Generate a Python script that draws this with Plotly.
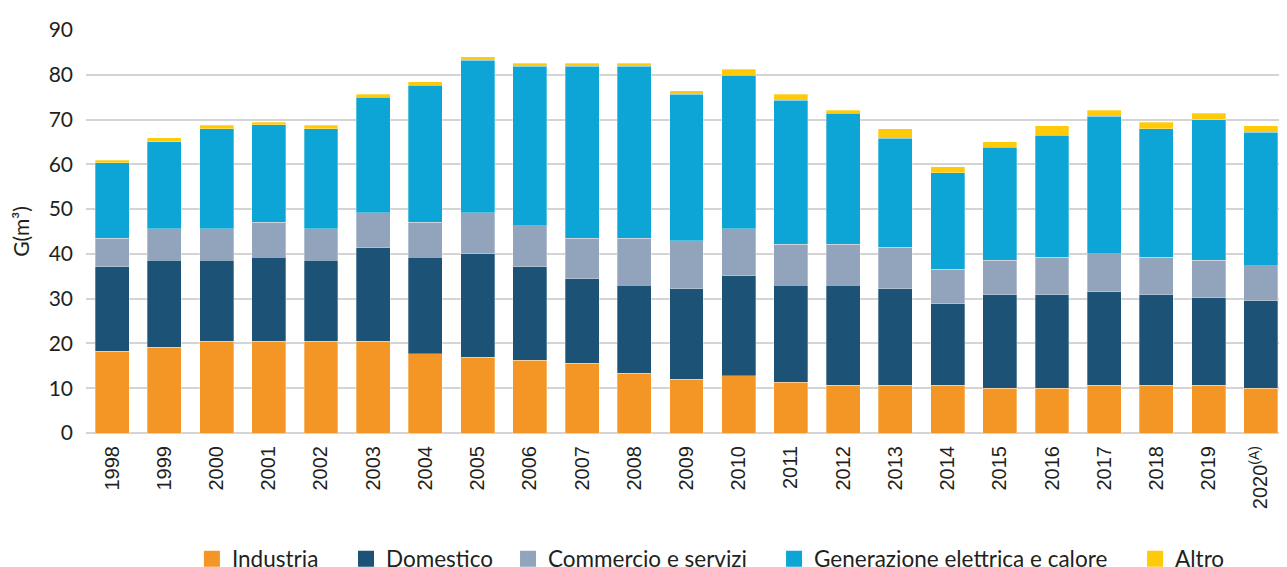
import plotly.graph_objects as go

years = ["1998", "1999", "2000", "2001", "2002", "2003", "2004", "2005", "2006", "2007",
         "2008", "2009", "2010", "2011", "2012", "2013", "2014", "2015", "2016", "2017",
         "2018", "2019", "2020<sup>(A)</sup>"]

industria = [18.3, 19.1, 20.5, 20.5, 20.5, 20.5, 17.7, 16.9, 16.3, 15.6,
             13.4, 12.0, 12.8, 11.3, 10.7, 10.7, 10.7, 10.0, 10.0, 10.7,
             10.7, 10.7, 10.0]
domestico = [18.8, 19.5, 18.1, 18.8, 18.1, 20.9, 21.6, 23.1, 20.8, 18.8,
             19.6, 20.2, 22.3, 21.7, 22.3, 21.5, 18.2, 20.9, 20.9, 20.8,
             20.2, 19.5, 19.5]
commercio = [6.4, 7.0, 7.0, 7.8, 7.0, 7.8, 7.8, 9.2, 9.2, 9.1,
             10.5, 10.7, 10.5, 9.1, 9.1, 9.3, 7.7, 7.7, 8.4, 8.5,
             8.4, 8.4, 7.8]
generazione = [16.8, 19.5, 22.4, 21.7, 22.4, 25.8, 30.6, 34.1, 35.6, 38.4,
               38.4, 32.7, 34.3, 32.2, 29.3, 24.3, 21.5, 25.2, 27.2, 30.7,
               28.6, 31.4, 29.9]
altro = [0.6, 0.8, 0.7, 0.6, 0.7, 0.6, 0.7, 0.7, 0.7, 0.7,
         0.7, 0.8, 1.3, 1.3, 0.7, 2.1, 1.4, 1.3, 2.1, 1.4,
         1.5, 1.4, 1.4]

series = [
    ("Industria", industria, "#F39626"),
    ("Domestico", domestico, "#1B5276"),
    ("Commercio e servizi", commercio, "#91A4BC"),
    ("Generazione elettrica e calore", generazione, "#0DA5D5"),
    ("Altro", altro, "#FFCA0A"),
]

legend_x = [0.0882, 0.2165, 0.3514, 0.5729, 0.8735]

TEXT = "#231F20"
fig = go.Figure()
for name, vals, col in series:
    fig.add_trace(go.Bar(x=years, y=vals, name=name, marker_color=col,
                         marker_line_width=0.5, marker_line_color="rgba(255,255,255,0.6)",
                         showlegend=False))

layout_legends = {}
for i, (name, vals, col) in enumerate(series):
    key = "legend" if i == 0 else f"legend{i+1}"
    fig.add_trace(go.Scatter(x=[None], y=[None], mode="markers", name=name,
                             marker=dict(symbol="square", size=18, color=col),
                             legend=key, showlegend=True))
    layout_legends[key] = dict(x=legend_x[i], xanchor="left", y=-0.3127, yanchor="middle",
                               orientation="h", bgcolor="rgba(0,0,0,0)",
                               font=dict(family="Lato", size=22.5, color=TEXT))

fig.update_layout(
    barmode="stack",
    bargap=0.35,
    width=1287, height=567,
    margin=dict(l=78, r=8, t=22, b=142, autoexpand=False),
    plot_bgcolor="white", paper_bgcolor="white",
    **layout_legends,
)
fig.update_xaxes(type="category", tickangle=-90, automargin=False,
                 tickfont=dict(family="Liberation Sans", size=20, color=TEXT),
                 ticklabelstandoff=8, showgrid=False, showline=False, zeroline=False)
fig.update_yaxes(range=[0, 90], dtick=10, showgrid=True, gridcolor="#D4D4D4", gridwidth=2,
                 zeroline=True, zerolinecolor="#D4D4D4", zerolinewidth=2, automargin=False,
                 tickfont=dict(family="Lato", size=21, color=TEXT),
                 ticklabelstandoff=12,
                 title=dict(text="G(m³)", font=dict(family="Lato", size=21, color=TEXT),
                            standoff=16))

fig.write_html("out.html")
